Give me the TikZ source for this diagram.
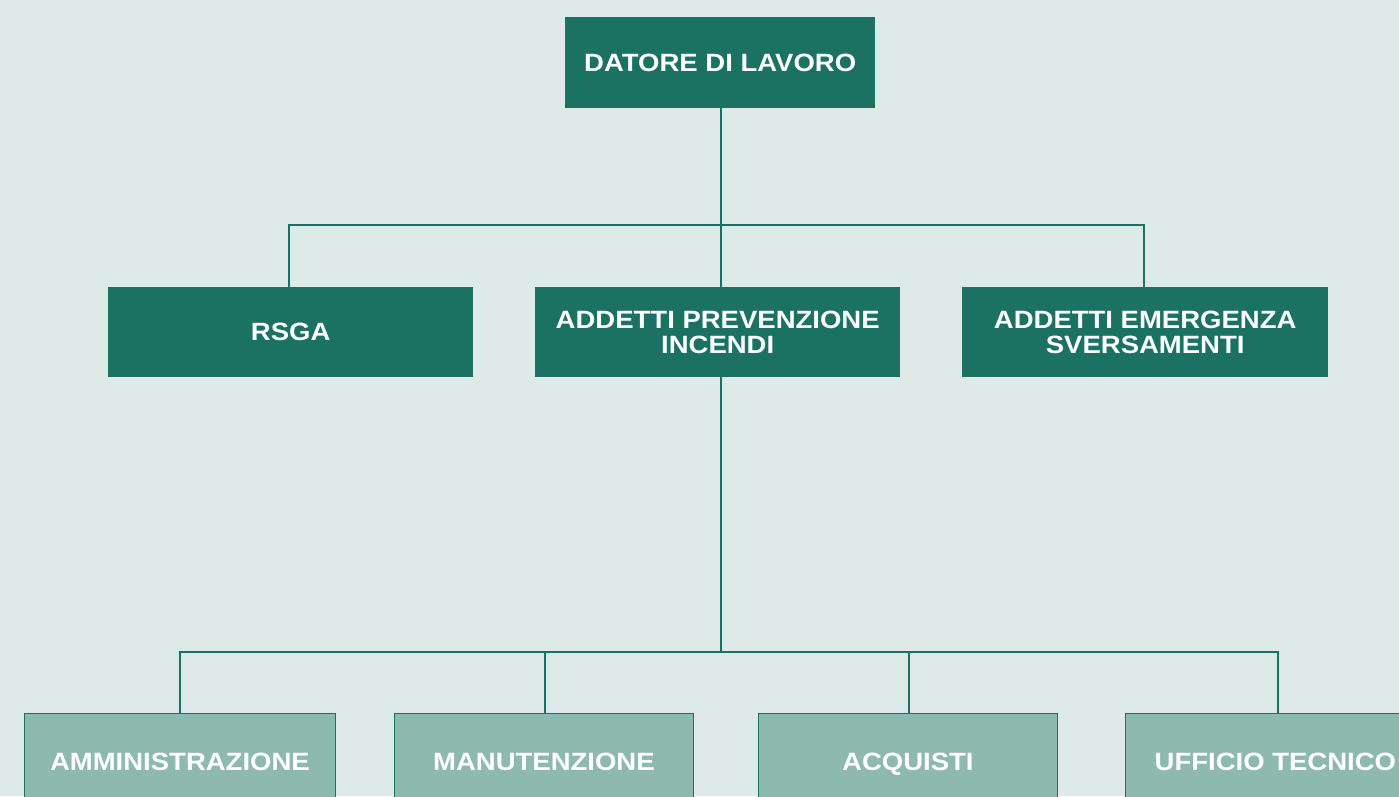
\documentclass[tikz,border=0pt]{standalone}
\usepackage{fontspec}
\setmainfont{Liberation Sans}[FakeStretch=1.1]
\definecolor{bg}{HTML}{DEEAE7}
\definecolor{dark}{HTML}{1C7262}
\definecolor{light}{HTML}{8EB9AF}
\begin{document}
\begin{tikzpicture}[x=1pt,y=-1pt,
  topbox/.style={fill=dark,draw=none,text=white,font=\fontsize{25}{25}\selectfont\bfseries,align=center,inner sep=0pt,anchor=north west},
  lowbox/.style={fill=light,draw=dark,line width=0.8pt,text=white,font=\fontsize{25}{25}\selectfont\bfseries,align=center,inner sep=0pt,anchor=north west},
  link/.style={draw=dark,line width=1.3pt}]
\clip (0,0) rectangle (1399,796);
\fill[bg] (0,0) rectangle (1399,796);
% top
\node[topbox,minimum width=310pt,minimum height=91pt] (dl) at (565,17) {DATORE DI LAVORO};
% middle
\node[topbox,minimum width=365pt,minimum height=90pt] (rsga) at (108,287) {RSGA};
\node[topbox,minimum width=365pt,minimum height=90pt] (api) at (535,287) {ADDETTI PREVENZIONE\\INCENDI};
\node[topbox,minimum width=366pt,minimum height=90pt] (aes) at (962,287) {ADDETTI EMERGENZA\\SVERSAMENTI};
% bottom
\node[lowbox,minimum width=311pt,minimum height=96pt] (amm) at (24,713) {AMMINISTRAZIONE};
\node[lowbox,minimum width=299pt,minimum height=96pt] (man) at (394,713) {MANUTENZIONE};
\node[lowbox,minimum width=299pt,minimum height=96pt] (acq) at (758,713) {\raisebox{0pt}[\height][0pt]{ACQUISTI}};
\node[lowbox,minimum width=300pt,minimum height=96pt] (uff) at (1125,713) {UFFICIO TECNICO};
% junctions
\coordinate (j1) at (721,225);
\coordinate (j2) at (721,652);
% connectors
\draw[link] (dl.south -| j1) -- (j1);
\draw[link] (j1) -- (api.north -| j1);
\draw[link] (rsga.north -| 289,0) -- (289,225) -- (j1) -- (1144,225) -- (aes.north -| 1144,0);
\draw[link] (api.south -| j2) -- (j2);
\draw[link] (amm.north -| 180,0) -- (180,652) -- (1278,652) -- (uff.north -| 1278,0);
\draw[link] (man.north -| 545,0) -- (545,652);
\draw[link] (acq.north -| 909,0) -- (909,652);
\end{tikzpicture}
\end{document}
